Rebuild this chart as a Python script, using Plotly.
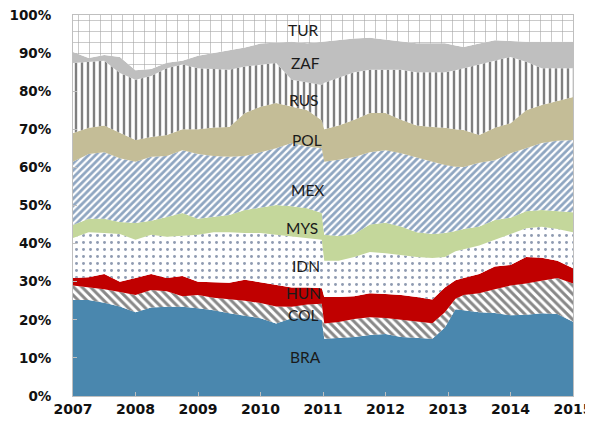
import plotly.graph_objects as go

years = [2007.0, 2007.25, 2007.5, 2007.75, 2008.0, 2008.25, 2008.5, 2008.75,
         2009.0, 2009.25, 2009.5, 2009.75, 2010.0, 2010.25, 2010.5, 2010.75,
         2010.98, 2011.02, 2011.25, 2011.5, 2011.75, 2012.0, 2012.25, 2012.5,
         2012.75, 2012.95, 2013.12, 2013.25, 2013.5, 2013.75, 2014.0, 2014.25,
         2014.5, 2014.75, 2015.0]

BRA = [25.2, 25.2, 24.5, 23.5, 22.0, 23.2, 23.4, 23.4, 23.0, 22.5, 21.7, 21.0, 20.4, 19.0, 20.4, 20.4, 20.0, 15.0, 15.2, 15.5, 16.0, 16.3, 15.5, 15.2, 15.0, 18.0, 22.8, 22.5, 22.0, 21.8, 21.2, 21.3, 21.7, 21.5, 19.5]
COL = [3.8, 3.3, 3.5, 3.8, 4.5, 4.6, 4.1, 2.8, 3.5, 3.3, 3.8, 4.0, 4.0, 4.5, 3.0, 3.6, 4.2, 4.0, 4.2, 4.7, 4.7, 4.2, 4.5, 4.3, 4.1, 4.0, 2.7, 4.0, 5.0, 6.2, 7.8, 8.2, 8.5, 9.5, 10.0]
HUN = [2.0, 2.7, 4.0, 2.7, 4.5, 4.2, 3.5, 5.3, 3.5, 4.0, 4.2, 5.5, 5.4, 5.5, 5.1, 4.5, 4.1, 7.0, 6.6, 6.0, 6.3, 6.3, 6.5, 6.5, 6.2, 6.5, 4.9, 4.5, 5.0, 6.0, 5.4, 7.0, 6.1, 4.5, 4.0]
IDN = [10.5, 11.8, 10.8, 12.5, 10.0, 10.3, 10.8, 10.5, 12.3, 13.2, 13.3, 12.3, 13.0, 13.3, 13.3, 12.8, 12.7, 9.5, 9.5, 10.3, 10.8, 10.7, 10.5, 10.5, 10.9, 8.0, 7.6, 7.5, 7.5, 7.0, 8.1, 7.5, 8.1, 8.3, 9.5]
MYS = [3.4, 3.5, 3.7, 3.2, 4.4, 3.7, 5.2, 6.0, 4.2, 4.0, 4.5, 6.0, 6.7, 7.8, 8.0, 8.0, 7.0, 6.8, 6.5, 6.0, 7.2, 8.0, 7.5, 6.5, 6.3, 6.3, 5.3, 5.3, 5.0, 5.2, 4.3, 4.5, 4.4, 4.7, 5.2]
MEX = [16.6, 17.0, 17.5, 16.7, 16.1, 16.8, 16.0, 16.5, 17.0, 16.0, 15.3, 14.2, 14.5, 14.9, 16.6, 16.2, 17.0, 19.2, 20.0, 20.2, 19.0, 19.0, 19.2, 19.5, 19.0, 17.8, 16.9, 16.3, 16.7, 15.7, 16.9, 16.5, 17.6, 18.5, 19.0]
POL = [7.5, 6.9, 7.0, 6.6, 5.7, 5.2, 5.5, 5.5, 6.5, 7.5, 7.8, 11.3, 11.9, 11.9, 9.5, 9.5, 7.4, 8.5, 9.0, 9.8, 10.3, 9.8, 8.8, 8.5, 9.1, 9.8, 9.8, 9.7, 7.3, 8.5, 7.9, 10.0, 10.0, 10.5, 11.3]
RUS = [18.4, 17.3, 17.0, 15.8, 15.8, 16.0, 17.5, 17.0, 16.0, 15.3, 15.0, 12.2, 11.0, 10.5, 7.1, 7.2, 9.2, 12.2, 12.5, 12.5, 11.3, 11.3, 13.1, 14.0, 14.4, 14.6, 15.5, 16.2, 18.4, 17.6, 17.4, 12.7, 9.6, 8.5, 7.5]
ZAF = [2.9, 1.0, 1.5, 4.2, 2.5, 1.8, 1.5, 1.0, 3.3, 4.2, 5.2, 5.0, 5.6, 5.4, 10.0, 10.4, 11.4, 10.8, 9.9, 8.8, 8.4, 7.9, 7.4, 7.6, 7.6, 7.6, 6.5, 5.6, 5.6, 5.4, 4.2, 5.3, 7.0, 7.0, 7.0]
TUR = [9.7, 11.3, 10.5, 11.0, 14.5, 14.2, 12.5, 12.0, 10.7, 10.0, 9.2, 8.5, 7.5, 7.2, 7.0, 7.4, 7.0, 7.0, 6.6, 6.2, 6.0, 6.5, 7.0, 7.4, 7.4, 7.4, 8.0, 8.4, 7.5, 6.6, 6.8, 7.0, 7.0, 7.0, 7.0]

series_names = ["BRA", "COL", "HUN", "IDN", "MYS", "MEX", "POL", "RUS", "ZAF", "TUR"]
series_values = [BRA, COL, HUN, IDN, MYS, MEX, POL, RUS, ZAF, TUR]

# label positions (year, percent)
label_x = [2010.72, 2010.68, 2010.68, 2010.72, 2010.66, 2010.75, 2010.75, 2010.68, 2010.72, 2010.68]
label_y = [10.2, 21.3, 27.0, 34.1, 44.1, 54.1, 67.2, 77.7, 87.4, 96.1]

styles = {
    "BRA": dict(fillcolor="#4A87AE"),
    "COL": dict(fillpattern=dict(shape="\\", bgcolor="white", fgcolor="#111111", size=6, solidity=0.5)),
    "HUN": dict(fillcolor="#C00000"),
    "IDN": dict(fillpattern=dict(shape=".", bgcolor="white", fgcolor="#1F3864", size=7, solidity=0.14)),
    "MYS": dict(fillcolor="#C4D79B"),
    "MEX": dict(fillpattern=dict(shape="/", bgcolor="white", fgcolor="#1F4E84", size=5, solidity=0.55)),
    "POL": dict(fillcolor="#C4BD97"),
    "RUS": dict(fillpattern=dict(shape="|", bgcolor="white", fgcolor="#000000", size=6, solidity=0.4)),
    "ZAF": dict(fillcolor="#BFBFBF"),
    "TUR": dict(fillpattern=dict(shape="+", bgcolor="white", fgcolor="#444444", size=11, solidity=0.1)),
}

fig = go.Figure()
for name, vals in zip(series_names, series_values):
    fig.add_trace(go.Scatter(
        x=years, y=vals, name=name, mode="lines", stackgroup="one",
        groupnorm="percent" if name == "BRA" else None,
        line=dict(width=0), hoverinfo="skip", **styles[name]))

for name, lx, ly in zip(series_names, label_x, label_y):
    fig.add_annotation(x=lx, y=ly, text=name, showarrow=False,
                       font=dict(family="Lato, Open Sans, sans-serif", size=15.5, color="#1a1a1a"))

fig.update_layout(
    width=593, height=439,
    margin=dict(l=65, r=28, t=7, b=51),
    paper_bgcolor="white", plot_bgcolor="white",
    showlegend=False,
    font=dict(family="DejaVu Sans", color="#111111"),
)
fig.update_xaxes(range=[2007, 2015], tickvals=list(range(2007, 2016)),
                 ticktext=[str(y) for y in range(2007, 2016)],
                 ticklabeloverflow="allow", automargin=False,
                 showgrid=False, zeroline=False, showline=True, linecolor="#BFBFBF",
                 linewidth=1, mirror=True, ticks="inside", ticklen=4, tickcolor="#BFBFBF",
                 tickfont=dict(family="DejaVu Sans", size=14, weight="bold", color="#111111"))
fig.update_yaxes(range=[0, 100], tickvals=list(range(0, 101, 10)),
                 ticktext=[f"{v}%" for v in range(0, 101, 10)],
                 ticklabeloverflow="allow", automargin=False,
                 showgrid=False, zeroline=False, showline=True, linecolor="#BFBFBF",
                 linewidth=1, mirror=True, ticks="inside", ticklen=4, tickcolor="#BFBFBF",
                 ticklabelstandoff=18,
                 tickfont=dict(family="DejaVu Sans", size=13.5, weight="bold", color="#111111"))

fig.write_html("out.html")
